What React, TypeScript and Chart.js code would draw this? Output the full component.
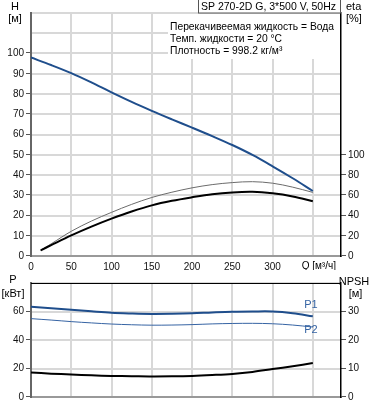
import React, { useEffect, useRef } from 'react';
import { Chart, registerables } from 'chart.js';

Chart.register(...registerables);

// ---------- data ----------
const Q_H = [0, 25, 50, 75, 100, 125, 150, 175, 200, 225, 250, 275, 300, 325, 350];
const H_VALUES = [98, 94.3, 90.3, 85.7, 80.8, 76.1, 71.7, 67.5, 63.4, 59.2, 54.8, 49.9, 44.3, 38.4, 32.1];

const Q_ETA = [12, 25, 50, 75, 100, 125, 150, 175, 200, 225, 250, 275, 300, 325, 350];
const ETA_PUMP = [5.6, 12, 24.4, 34.5, 43.1, 51, 57.8, 63, 67.3, 70.5, 72.5, 73.4, 71.9, 68, 62.8];
const ETA_TOTAL = [5.6, 10.7, 20.3, 29, 36.9, 44, 50, 54.5, 58, 61, 62.8, 63.4, 61.9, 58.8, 54.1];

const Q_P = [0, 25, 50, 75, 100, 125, 150, 175, 200, 225, 250, 275, 300, 325, 350];
const P1_VALUES = [63.3, 62.3, 61.2, 60.1, 59.1, 58.6, 58.3, 58.4, 58.7, 59.3, 59.8, 60, 60, 58.8, 56.6];
const P2_VALUES = [55, 54, 52.9, 52, 51.2, 50.7, 50.4, 50.5, 50.8, 51.3, 51.6, 51.7, 51.4, 50.5, 49.1];
const NPSH_VALUES = [8.6, 8.2, 7.9, 7.6, 7.4, 7.3, 7.2, 7.25, 7.4, 7.7, 8.1, 8.8, 9.8, 10.8, 11.9];

const Q_TICK_LABELS = ['0', '50', '100', '150', '200', '250', '300'];
const Q_AXIS_LABEL = 'Q [м³/ч]';
const TITLE = 'SP 270-2D G, 3*500 V, 50Hz';
const INFO_LINES = [
  'Перекачивеемая жидкость = Вода',
  'Темп. жидкости = 20 °C',
  'Плотность = 998.2 кг/м³',
];

const FONT = '"Liberation Sans", Arial, sans-serif';
const BLUE = '#1f4e8c';
const BLUE2 = '#3563a3';
const GRID = '#d8d8d8';

const pts = (xs: number[], ys: number[]) => xs.map((x, i) => ({ x, y: ys[i] }));

// grid lines and tick marks, drawn from the chart's own scales before the axes
function makeGridPlugin(leftId: string, rightId: string, leftLabelMax: number, rightLabelMax: number) {
  return {
    id: 'gridUnder',
    beforeDraw(chart: any) {
      const ctx = chart.ctx;
      const a = chart.chartArea;
      const xs = chart.scales.x;
      const yl = chart.scales[leftId];
      const yr = chart.scales[rightId];
      ctx.save();
      ctx.fillStyle = GRID;
      xs.ticks.forEach((t: any) => {
        const px = Math.round(xs.getPixelForValue(t.value));
        if (px <= a.left + 1 || px >= a.right - 1) return;
        ctx.fillRect(px - 1, a.top, 2, a.bottom - a.top);
      });
      yl.ticks.forEach((t: any) => {
        const py = Math.round(yl.getPixelForValue(t.value));
        if (py >= a.bottom - 1) return;
        ctx.fillRect(a.left, Math.max(0, py - 1), a.right - a.left, 2);
      });
      ctx.fillStyle = '#555';
      yl.ticks.forEach((t: any) => {
        if (t.value > leftLabelMax + 1e-6) return;
        const py = Math.round(yl.getPixelForValue(t.value));
        ctx.fillRect(a.left - 5, py - 1, 5, 1);
      });
      yr.ticks.forEach((t: any) => {
        if (t.value > rightLabelMax + 1e-6) return;
        const py = Math.round(yr.getPixelForValue(t.value));
        ctx.fillRect(a.right, py - 1, 5, 1);
      });
      ctx.restore();
    },
  };
}

const topDecor = {
  id: 'topDecor',
  beforeDatasetsDraw(chart: any) {
    const ctx = chart.ctx;
    ctx.save();
    ctx.fillStyle = '#fff';
    ctx.fillRect(168, 14, 172, 45);
    ctx.fillStyle = '#000';
    ctx.font = `10.3px ${FONT}`;
    ctx.textBaseline = 'middle';
    ctx.textAlign = 'left';
    INFO_LINES.forEach((t, i) => ctx.fillText(t, 170, 27 + i * 12.2));
    ctx.restore();
  },
  afterDraw(chart: any) {
    const ctx = chart.ctx;
    ctx.save();
    ctx.fillStyle = '#fff';
    ctx.fillRect(198, 0, 142, 13);
    ctx.strokeStyle = '#555';
    ctx.lineWidth = 1;
    ctx.strokeRect(198.5, -0.5, 142, 13.5);
    ctx.fillStyle = '#000';
    ctx.font = `10.5px ${FONT}`;
    ctx.textBaseline = 'middle';
    ctx.textAlign = 'left';
    ctx.fillText(TITLE, 201, 7);
    ctx.font = `11px ${FONT}`;
    ctx.textAlign = 'center';
    ctx.fillText('H', 15, 6.5);
    ctx.fillText('[м]', 15, 18.5);
    ctx.textAlign = 'left';
    ctx.fillText('eta', 346, 7);
    ctx.fillText('[%]', 346, 19);
    ctx.font = `10px ${FONT}`;
    ctx.textAlign = 'center';
    const xs = chart.scales.x;
    ctx.fillText(Q_AXIS_LABEL, xs.getPixelForValue(350) + 6, 266.5);
    ctx.restore();
  },
};

const botDecor = {
  id: 'botDecor',
  afterDraw(chart: any) {
    const ctx = chart.ctx;
    const a = chart.chartArea;
    ctx.save();
    ctx.strokeStyle = '#000';
    ctx.lineWidth = 1;
    ctx.beginPath();
    ctx.moveTo(a.left, a.top + 0.5);
    ctx.lineTo(a.right, a.top + 0.5);
    ctx.stroke();
    ctx.fillStyle = '#000';
    ctx.font = `11px ${FONT}`;
    ctx.textBaseline = 'middle';
    ctx.textAlign = 'center';
    ctx.fillText('P', 13, 9.5);
    ctx.fillText('[кВт]', 13, 23.5);
    ctx.fillText('NPSH', 354, 11.5);
    ctx.fillText('[м]', 355.5, 23.5);
    ctx.fillStyle = BLUE2;
    ctx.fillText('P1', 311, 34.5);
    ctx.fillText('P2', 311, 59.5);
    ctx.restore();
  },
};

const NO_GRID = { display: true, drawOnChartArea: false, drawTicks: false };

function xScale(showLabels: boolean, h: number) {
  return {
    type: 'linear',
    position: 'bottom',
    min: 0,
    max: 385,
    afterFit: (s: any) => { s.height = h; },
    border: { display: true, color: '#999', width: 2 },
    grid: NO_GRID,
    ticks: {
      display: showLabels,
      stepSize: 50,
      padding: 5,
      color: '#111',
      font: { size: 10, family: FONT },
      maxRotation: 0,
      autoSkip: false,
      callback: (v: number) => {
        const i = Math.round(v / 50);
        return v % 50 === 0 && i < Q_TICK_LABELS.length ? Q_TICK_LABELS[i] : '';
      },
    },
  };
}

function yLeft(max: number, step: number, labelMax: number) {
  return {
    type: 'linear',
    axis: 'y',
    position: 'left',
    min: 0,
    max,
    afterFit: (s: any) => { s.width = 31; },
    border: { display: true, color: '#666', width: 2 },
    grid: NO_GRID,
    ticks: {
      stepSize: step,
      padding: 7,
      color: '#111',
      font: { size: 10, family: FONT },
      callback: (v: number) => (v <= labelMax ? String(v) : ''),
    },
  };
}

function yRight(max: number, step: number, labelMax: number) {
  return {
    type: 'linear',
    axis: 'y',
    position: 'right',
    min: 0,
    max,
    afterFit: (s: any) => { s.width = 37; },
    border: { display: true, color: '#000', width: 1.5 },
    grid: NO_GRID,
    ticks: {
      stepSize: step,
      padding: 7,
      color: '#111',
      font: { size: 10, family: FONT },
      callback: (v: number) => (v <= labelMax ? String(v) : ''),
    },
  };
}

const lineDs = (data: any, color: string, width: number, axis: string) => ({
  type: 'line',
  data,
  borderColor: color,
  borderWidth: width,
  pointRadius: 0,
  fill: false,
  tension: 0.35,
  yAxisID: axis,
});

export default function App() {
  const topRef = useRef<HTMLCanvasElement>(null);
  const botRef = useRef<HTMLCanvasElement>(null);

  useEffect(() => {
    const common = {
      responsive: false,
      animation: false,
      devicePixelRatio: 1,
      layout: { padding: 0 },
      plugins: { legend: { display: false }, tooltip: { enabled: false }, title: { display: false } },
    };
    const top = new Chart(topRef.current as HTMLCanvasElement, {
      type: 'line',
      data: {
        datasets: [
          lineDs(pts(Q_H, H_VALUES), BLUE, 2, 'yH'),
          lineDs(pts(Q_ETA, ETA_TOTAL), '#000', 2, 'yEta'),
          lineDs(pts(Q_ETA, ETA_PUMP), '#6b6b6b', 1, 'yEta'),
        ] as any,
      },
      options: {
        ...common,
        scales: {
          x: xScale(true, 14),
          yH: yLeft(120, 10, 100),
          yEta: yRight(240, 20, 100),
        },
      } as any,
      plugins: [makeGridPlugin('yH', 'yEta', 100, 100), topDecor],
    });
    const bot = new Chart(botRef.current as HTMLCanvasElement, {
      type: 'line',
      data: {
        datasets: [
          lineDs(pts(Q_P, P1_VALUES), BLUE, 2, 'yP'),
          lineDs(pts(Q_P, P2_VALUES), BLUE2, 1, 'yP'),
          lineDs(pts(Q_P, NPSH_VALUES), '#000', 2, 'yN'),
        ] as any,
      },
      options: {
        ...common,
        layout: { padding: { top: 4 } },
        scales: {
          x: xScale(false, 9),
          yP: yLeft(80, 20, 60),
          yN: yRight(40, 10, 30),
        },
      } as any,
      plugins: [makeGridPlugin('yP', 'yN', 60, 30), botDecor],
    });
    return () => {
      top.destroy();
      bot.destroy();
    };
  }, []);

  return (
    <div style={{ position: 'absolute', left: 0, top: 0, width: 378, height: 410, background: '#fff' }}>
      <canvas ref={topRef} width={378} height={270} style={{ position: 'absolute', left: 0, top: 0, width: 378, height: 270 }} />
      <canvas ref={botRef} width={378} height={140} style={{ position: 'absolute', left: 0, top: 270, width: 378, height: 140 }} />
    </div>
  );
}
